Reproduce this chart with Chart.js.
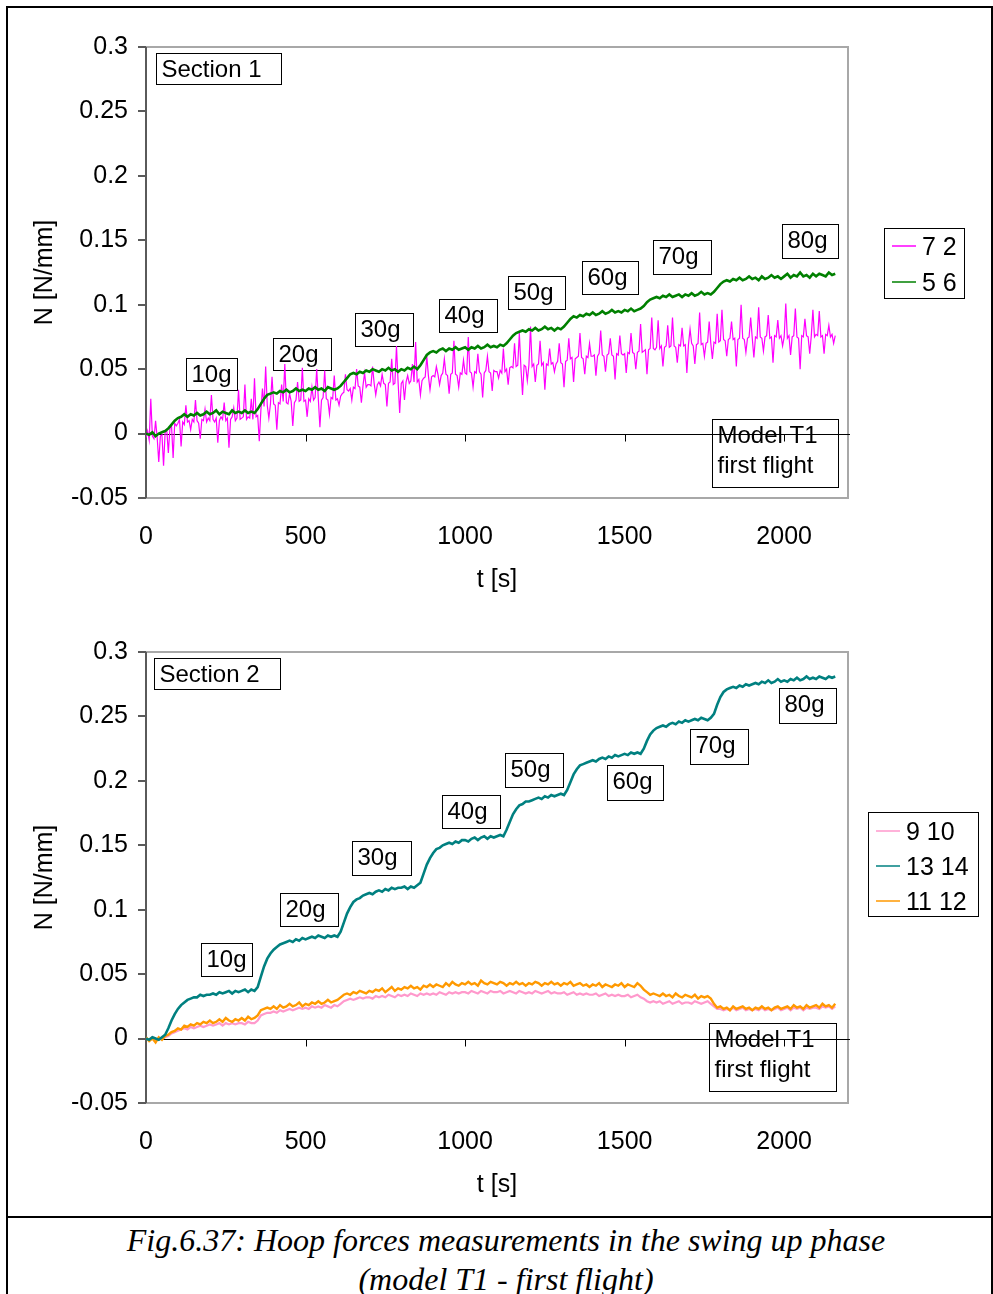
<!DOCTYPE html>
<html>
<head>
<meta charset="utf-8">
<title>Hoop forces - swing up phase</title>
<script src="https://cdn.jsdelivr.net/npm/chart.js@4.4.0/dist/chart.umd.min.js"></script>
<style>
  body { margin: 0; background: #fff; }
  #page { position: relative; width: 993px; height: 1294px; overflow: hidden; background: #fff; }
  #frame { position: absolute; left: 6px; top: 6px; width: 983px; height: 1320px; border: 2px solid #000; }
  #rule { position: absolute; left: 6px; top: 1216px; width: 987px; height: 2px; background: #000; }
  .panel { position: absolute; left: 0; }
  #caption {
    position: absolute; left: 19px; width: 974px; top: 1221px;
    text-align: center; font: italic 32px/39px "Liberation Serif", "Times New Roman", serif; color: #000;
  }
</style>
</head>
<body>
<div id="page">
  <div id="frame"></div>
  <div id="rule"></div>
  <canvas id="section1" class="panel" width="993" height="605" style="top:0"></canvas>
  <canvas id="section2" class="panel" width="993" height="605" style="top:605px"></canvas>
  <div id="caption">Fig.6.37: Hoop forces measurements in the swing up phase<br>(model T1 - first flight)</div>
</div>
<script>
// sampling intervals of the logged gauges [s]
const DT_FINE = 5;     // gauge 7 2 (spiky signal, kept at 5 s)
const DT = 10;         // all other gauges

// Section 1 gauges, N [N/mm], from t = 0 to 2160 s
const gauge72 = [
  -0.003, 0.002, -0.005, 0.027, -0.002, -0.004, 0.010, -0.003, -0.022, -0.002, -0.001, -0.025, 0.001, 0.003, -0.015, 0.004, 0.006, -0.019, 0.008, 0.006,
  0.008, 0.011, -0.010, 0.009, 0.007, 0.022, 0.009, 0.010, 0.003, 0.011, 0.009, 0.026, 0.010, 0.008, -0.004, 0.011, 0.010, 0.019, 0.009, 0.012,
  0.010, 0.030, 0.011, 0.009, 0.012, -0.007, 0.010, 0.013, 0.011, 0.024, 0.010, 0.012, -0.011, 0.011, 0.013, 0.020, 0.010, 0.012, 0.034, 0.011,
  0.012, 0.013, 0.038, 0.011, 0.013, 0.012, 0.027, 0.011, 0.043, 0.013, 0.014, -0.006, 0.018, 0.035, 0.021, 0.052, 0.022, 0.012, 0.023, 0.044,
  0.023, 0.022, 0.003, 0.024, 0.023, 0.038, 0.025, 0.054, 0.024, 0.023, 0.031, 0.025, 0.006, 0.024, 0.026, 0.040, 0.025, 0.026, 0.051, 0.025,
  0.026, 0.013, 0.027, 0.025, 0.036, 0.026, 0.028, 0.050, 0.027, 0.005, 0.026, 0.028, 0.049, 0.027, 0.026, 0.015, 0.028, 0.027, 0.045, 0.026,
  0.027, 0.022, 0.029, 0.031, 0.032, 0.046, 0.034, 0.033, 0.035, 0.026, 0.036, 0.035, 0.050, 0.037, 0.036, 0.024, 0.037, 0.047, 0.036, 0.038,
  0.038, 0.037, 0.052, 0.039, 0.030, 0.038, 0.040, 0.037, 0.046, 0.039, 0.038, 0.021, 0.039, 0.040, 0.058, 0.038, 0.039, 0.068, 0.040, 0.016,
  0.039, 0.041, 0.026, 0.040, 0.045, 0.039, 0.041, 0.054, 0.040, 0.071, 0.040, 0.042, 0.030, 0.041, 0.043, 0.044, 0.060, 0.045, 0.034, 0.044,
  0.045, 0.044, 0.052, 0.046, 0.038, 0.045, 0.047, 0.058, 0.046, 0.045, 0.031, 0.046, 0.047, 0.072, 0.046, 0.045, 0.036, 0.047, 0.046, 0.057,
  0.047, 0.046, 0.075, 0.048, 0.047, 0.036, 0.048, 0.047, 0.062, 0.048, 0.046, 0.028, 0.047, 0.049, 0.060, 0.048, 0.047, 0.033, 0.049, 0.048,
  0.048, 0.043, 0.049, 0.047, 0.066, 0.048, 0.050, 0.038, 0.051, 0.052, 0.051, 0.070, 0.052, 0.053, 0.078, 0.051, 0.030, 0.053, 0.052, 0.041,
  0.053, 0.083, 0.052, 0.054, 0.040, 0.053, 0.054, 0.072, 0.053, 0.055, 0.034, 0.054, 0.053, 0.066, 0.054, 0.055, 0.048, 0.054, 0.056, 0.070,
  0.055, 0.054, 0.036, 0.056, 0.057, 0.074, 0.058, 0.059, 0.040, 0.058, 0.059, 0.060, 0.078, 0.059, 0.058, 0.046, 0.060, 0.059, 0.070, 0.060,
  0.060, 0.061, 0.045, 0.060, 0.062, 0.080, 0.061, 0.060, 0.048, 0.061, 0.062, 0.074, 0.061, 0.060, 0.042, 0.062, 0.061, 0.076, 0.062, 0.061,
  0.062, 0.047, 0.063, 0.062, 0.078, 0.063, 0.062, 0.050, 0.063, 0.064, 0.085, 0.063, 0.064, 0.065, 0.046, 0.065, 0.066, 0.090, 0.066, 0.065,
  0.067, 0.088, 0.066, 0.068, 0.052, 0.067, 0.068, 0.084, 0.067, 0.068, 0.090, 0.068, 0.067, 0.055, 0.069, 0.068, 0.082, 0.068, 0.069, 0.047,
  0.069, 0.081, 0.070, 0.068, 0.054, 0.069, 0.070, 0.094, 0.069, 0.070, 0.060, 0.070, 0.071, 0.087, 0.070, 0.058, 0.071, 0.070, 0.093, 0.071,
  0.072, 0.096, 0.073, 0.072, 0.060, 0.073, 0.074, 0.087, 0.073, 0.074, 0.052, 0.073, 0.074, 0.100, 0.074, 0.073, 0.063, 0.074, 0.075, 0.090,
  0.074, 0.059, 0.075, 0.074, 0.098, 0.075, 0.074, 0.064, 0.075, 0.076, 0.092, 0.074, 0.075, 0.055, 0.076, 0.075, 0.088, 0.074, 0.076, 0.068,
  0.075, 0.101, 0.074, 0.076, 0.061, 0.075, 0.076, 0.097, 0.075, 0.074, 0.050, 0.076, 0.075, 0.089, 0.076, 0.075, 0.062, 0.076, 0.096, 0.075,
  0.077, 0.076, 0.095, 0.075, 0.076, 0.062, 0.077, 0.076, 0.084, 0.075, 0.077, 0.070, 0.076
];
const gauge56 = [
  0.000, -0.001, 0.001, -0.002, 0.000, 0.001, 0.002, 0.004, 0.007, 0.010,
  0.012, 0.013, 0.015, 0.013, 0.015, 0.014, 0.016, 0.014, 0.015, 0.017,
  0.015, 0.016, 0.018, 0.015, 0.017, 0.016, 0.015, 0.018, 0.016, 0.017,
  0.016, 0.018, 0.016, 0.017, 0.016, 0.019, 0.023, 0.027, 0.030, 0.031,
  0.032, 0.031, 0.033, 0.032, 0.034, 0.032, 0.033, 0.035, 0.033, 0.034,
  0.033, 0.035, 0.034, 0.036, 0.034, 0.035, 0.033, 0.036, 0.035, 0.034,
  0.035, 0.037, 0.040, 0.043, 0.046, 0.047, 0.046, 0.048, 0.047, 0.049,
  0.048, 0.050, 0.049, 0.048, 0.050, 0.049, 0.051, 0.049, 0.050, 0.048,
  0.050, 0.049, 0.051, 0.050, 0.052, 0.050, 0.053, 0.057, 0.061, 0.063,
  0.064, 0.063, 0.065, 0.066, 0.064, 0.066, 0.065, 0.067, 0.065, 0.066,
  0.067, 0.065, 0.067, 0.066, 0.068, 0.066, 0.067, 0.069, 0.067, 0.068,
  0.067, 0.069, 0.068, 0.070, 0.073, 0.076, 0.078, 0.079, 0.080, 0.079,
  0.081, 0.080, 0.082, 0.080, 0.081, 0.083, 0.081, 0.082, 0.080, 0.082,
  0.081, 0.083, 0.086, 0.089, 0.091, 0.090, 0.092, 0.091, 0.093, 0.092,
  0.094, 0.092, 0.093, 0.095, 0.093, 0.094, 0.096, 0.094, 0.095, 0.094,
  0.096, 0.095, 0.097, 0.095, 0.096, 0.097, 0.099, 0.102, 0.104, 0.105,
  0.106, 0.105, 0.107, 0.106, 0.108, 0.106, 0.107, 0.108, 0.106, 0.108,
  0.107, 0.109, 0.107, 0.108, 0.110, 0.108, 0.109, 0.108, 0.110, 0.113,
  0.116, 0.118, 0.119, 0.118, 0.120, 0.119, 0.121, 0.119, 0.120, 0.122,
  0.120, 0.121, 0.119, 0.122, 0.120, 0.121, 0.123, 0.121, 0.122, 0.120,
  0.122, 0.124, 0.121, 0.123, 0.122, 0.125, 0.122, 0.123, 0.121, 0.124,
  0.122, 0.124, 0.123, 0.122, 0.125, 0.123, 0.124
];

// Section 2 gauges, every 10 s
const gauge910 = [
  0.000, -0.001, 0.001, -0.001, 0.000, 0.000, 0.001, 0.002, 0.004, 0.005,
  0.006, 0.007, 0.008, 0.007, 0.009, 0.008, 0.009, 0.010, 0.009, 0.010,
  0.011, 0.010, 0.011, 0.012, 0.010, 0.012, 0.011, 0.012, 0.011, 0.012,
  0.012, 0.011, 0.013, 0.012, 0.012, 0.014, 0.018, 0.019, 0.020, 0.020,
  0.021, 0.020, 0.022, 0.021, 0.022, 0.023, 0.022, 0.023, 0.024, 0.023,
  0.024, 0.023, 0.025, 0.024, 0.025, 0.024, 0.026, 0.025, 0.024, 0.026,
  0.025, 0.027, 0.029, 0.030, 0.031, 0.030, 0.031, 0.032, 0.031, 0.032,
  0.032, 0.031, 0.033, 0.032, 0.033, 0.032, 0.034, 0.033, 0.032, 0.034,
  0.033, 0.034, 0.033, 0.035, 0.034, 0.033, 0.035, 0.034, 0.035, 0.034,
  0.035, 0.034, 0.036, 0.035, 0.034, 0.036, 0.035, 0.036, 0.035, 0.036,
  0.036, 0.035, 0.037, 0.036, 0.035, 0.037, 0.036, 0.035, 0.037, 0.036,
  0.036, 0.037, 0.035, 0.036, 0.037, 0.036, 0.035, 0.037, 0.036, 0.035,
  0.036, 0.035, 0.037, 0.036, 0.035, 0.036, 0.037, 0.035, 0.036, 0.035,
  0.035, 0.036, 0.034, 0.035, 0.036, 0.034, 0.035, 0.034, 0.035, 0.034,
  0.034, 0.035, 0.033, 0.034, 0.035, 0.033, 0.034, 0.033, 0.034, 0.033,
  0.033, 0.034, 0.032, 0.033, 0.034, 0.032, 0.031, 0.029, 0.028, 0.029,
  0.028, 0.029, 0.027, 0.028, 0.029, 0.027, 0.028, 0.029, 0.027, 0.028,
  0.028, 0.027, 0.029, 0.028, 0.027, 0.028, 0.029, 0.027, 0.025, 0.023,
  0.023, 0.022, 0.023, 0.022, 0.024, 0.022, 0.023, 0.024, 0.022, 0.023,
  0.022, 0.023, 0.022, 0.024, 0.022, 0.023, 0.022, 0.023, 0.024, 0.022,
  0.023, 0.024, 0.022, 0.024, 0.023, 0.024, 0.022, 0.024, 0.023, 0.024,
  0.024, 0.023, 0.025, 0.024, 0.025, 0.023, 0.025
];
const gauge1314 = [
  0.000, -0.001, 0.001, 0.000, -0.001, 0.001, 0.003, 0.008, 0.014, 0.019,
  0.023, 0.026, 0.028, 0.030, 0.031, 0.032, 0.032, 0.034, 0.033, 0.034,
  0.034, 0.035, 0.034, 0.036, 0.035, 0.036, 0.037, 0.035, 0.037, 0.036,
  0.037, 0.038, 0.036, 0.038, 0.037, 0.040, 0.048, 0.056, 0.062, 0.066,
  0.069, 0.071, 0.073, 0.074, 0.075, 0.076, 0.075, 0.077, 0.076, 0.078,
  0.077, 0.078, 0.079, 0.078, 0.080, 0.079, 0.078, 0.080, 0.079, 0.080,
  0.079, 0.083, 0.090, 0.097, 0.102, 0.106, 0.108, 0.109, 0.111, 0.112,
  0.113, 0.112, 0.114, 0.115, 0.114, 0.116, 0.115, 0.117, 0.116, 0.117,
  0.117, 0.118, 0.116, 0.118, 0.117, 0.119, 0.121, 0.128, 0.135, 0.140,
  0.144, 0.147, 0.148, 0.150, 0.151, 0.152, 0.151, 0.153, 0.152, 0.154,
  0.154, 0.153, 0.155, 0.156, 0.154, 0.156, 0.157, 0.155, 0.157, 0.156,
  0.157, 0.158, 0.157, 0.162, 0.168, 0.174, 0.178, 0.181, 0.182, 0.184,
  0.184, 0.185, 0.186, 0.187, 0.186, 0.188, 0.187, 0.189, 0.188, 0.189,
  0.190, 0.189, 0.193, 0.199, 0.205, 0.209, 0.212, 0.213, 0.214, 0.215,
  0.216, 0.215, 0.217, 0.218, 0.217, 0.219, 0.218, 0.220, 0.219, 0.220,
  0.221, 0.220, 0.222, 0.221, 0.222, 0.221, 0.225, 0.231, 0.236, 0.239,
  0.241, 0.242, 0.243, 0.242, 0.244, 0.245, 0.244, 0.246, 0.245, 0.247,
  0.246, 0.247, 0.248, 0.247, 0.249, 0.248, 0.247, 0.249, 0.252, 0.259,
  0.265, 0.269, 0.271, 0.272, 0.273, 0.272, 0.274, 0.273, 0.275, 0.274,
  0.275, 0.276, 0.275, 0.277, 0.276, 0.278, 0.276, 0.277, 0.279, 0.277,
  0.278, 0.277, 0.279, 0.278, 0.280, 0.278, 0.279, 0.281, 0.279, 0.280,
  0.279, 0.281, 0.280, 0.279, 0.281, 0.280, 0.281
];
const gauge1112 = [
  0.001, -0.002, 0.000, -0.003, 0.001, -0.001, 0.002, 0.003, 0.005, 0.006,
  0.008, 0.007, 0.010, 0.009, 0.011, 0.010, 0.012, 0.011, 0.013, 0.012,
  0.014, 0.012, 0.013, 0.015, 0.013, 0.016, 0.014, 0.013, 0.015, 0.014,
  0.016, 0.014, 0.017, 0.015, 0.016, 0.018, 0.022, 0.023, 0.024, 0.023,
  0.025, 0.023, 0.026, 0.024, 0.025, 0.027, 0.025, 0.026, 0.028, 0.025,
  0.027, 0.026, 0.028, 0.027, 0.029, 0.027, 0.028, 0.030, 0.028, 0.029,
  0.030, 0.032, 0.034, 0.035, 0.034, 0.036, 0.035, 0.037, 0.036, 0.035,
  0.037, 0.036, 0.038, 0.037, 0.039, 0.036, 0.038, 0.040, 0.037, 0.039,
  0.038, 0.040, 0.039, 0.041, 0.039, 0.040, 0.038, 0.041, 0.040, 0.042,
  0.040, 0.042, 0.041, 0.040, 0.043, 0.041, 0.044, 0.042, 0.041, 0.043,
  0.042, 0.044, 0.042, 0.043, 0.041, 0.045, 0.043, 0.042, 0.044, 0.043,
  0.042, 0.044, 0.043, 0.041, 0.043, 0.042, 0.044, 0.042, 0.043, 0.041,
  0.043, 0.042, 0.044, 0.043, 0.041, 0.043, 0.042, 0.044, 0.042, 0.043,
  0.041, 0.043, 0.042, 0.044, 0.041, 0.042, 0.043, 0.041, 0.042, 0.040,
  0.042, 0.041, 0.043, 0.040, 0.042, 0.041, 0.040, 0.042, 0.041, 0.043,
  0.040, 0.042, 0.041, 0.040, 0.043, 0.041, 0.038, 0.036, 0.034, 0.035,
  0.034, 0.033, 0.035, 0.033, 0.034, 0.032, 0.035, 0.033, 0.032, 0.034,
  0.033, 0.032, 0.034, 0.031, 0.033, 0.032, 0.033, 0.031, 0.027, 0.024,
  0.025, 0.023, 0.024, 0.022, 0.025, 0.023, 0.024, 0.025, 0.023, 0.024,
  0.022, 0.024, 0.023, 0.025, 0.023, 0.024, 0.022, 0.024, 0.025, 0.023,
  0.024, 0.025, 0.023, 0.026, 0.024, 0.025, 0.023, 0.026, 0.024, 0.025,
  0.026, 0.024, 0.027, 0.025, 0.026, 0.024, 0.027
];

// axis ranges and tick labels
const T_MAX = 2200;
const T_TICKS = [0, 500, 1000, 1500, 2000];
const N_MIN = -0.05, N_MAX = 0.3, N_STEP = 0.05;

const FONT = '"Liberation Sans", Arial, sans-serif';

function toPoints(values, dt) {
  return values.map((v, i) => ({ x: i * dt, y: v }));
}

function series(label, values, dt, color, width, order) {
  return {
    label: label,
    data: toPoints(values, dt),
    borderColor: color,
    backgroundColor: color,
    borderWidth: width,
    pointRadius: 0,
    tension: 0,
    order: order
  };
}

// frame, axes, load-step text boxes and the boxed legend (Excel style)
const panelDecor = {
  id: 'panelDecor',
  beforeDatasetsDraw(chart, args, opts) {
    const { ctx, chartArea: a, scales: { x, y } } = chart;
    ctx.save();
    ctx.strokeStyle = '#a8a8a8';
    ctx.lineWidth = 2;
    ctx.strokeRect(a.left, a.top, a.right - a.left, a.bottom - a.top);

    ctx.strokeStyle = '#5a5a5a';
    ctx.beginPath();
    ctx.moveTo(a.left, a.top);
    ctx.lineTo(a.left, a.bottom);
    y.ticks.forEach(t => {
      const py = Math.round(y.getPixelForValue(t.value));
      ctx.moveTo(a.left - 8, py);
      ctx.lineTo(a.left, py);
    });
    ctx.stroke();

    // text boxes
    ctx.font = '24px ' + FONT;
    ctx.fillStyle = '#000';
    ctx.textBaseline = 'middle';
    ctx.textAlign = 'left';
    ctx.lineWidth = 1;
    ctx.strokeStyle = '#000';
    opts.boxes.forEach(b => {
      const bx = Math.round(x.getPixelForValue(b.t)) + 0.5;
      const by = Math.round(y.getPixelForValue(b.n)) + 0.5;
      ctx.strokeRect(bx, by, b.w, b.h);
      b.lines.forEach((s, k) => ctx.fillText(s, bx + 5, by + 17 + k * 30));
    });

    // zero line with the time ticks on it
    const y0 = Math.round(y.getPixelForValue(0)) + 0.5;
    ctx.beginPath();
    ctx.moveTo(a.left, y0);
    ctx.lineTo(a.right + 2, y0);
    x.ticks.forEach(t => {
      if (t.value <= 0) return;
      const px = Math.round(x.getPixelForValue(t.value)) + 0.5;
      ctx.moveTo(px, y0);
      ctx.lineTo(px, y0 + 7);
    });
    ctx.stroke();
    ctx.restore();
  },
  afterDraw(chart, args, opts) {
    const { ctx } = chart;
    const lg = opts.legend;
    ctx.save();
    ctx.strokeStyle = '#000';
    ctx.lineWidth = 1;
    ctx.strokeRect(lg.left + 0.5, lg.top + 0.5, lg.width, lg.height);
    ctx.font = '25px ' + FONT;
    ctx.textBaseline = 'middle';
    ctx.fillStyle = '#000';
    chart.data.datasets.forEach((ds, i) => {
      const yy = lg.top + lg.first + i * lg.gap;
      ctx.strokeStyle = ds.borderColor;
      ctx.lineWidth = 1.5;
      ctx.beginPath();
      ctx.moveTo(lg.left + 8, yy);
      ctx.lineTo(lg.left + 32, yy);
      ctx.stroke();
      ctx.fillText(ds.label, lg.left + 38, yy + 2);
    });
    ctx.restore();
  }
};

function makePanel(canvasId, datasets, boxes, legend) {
  return new Chart(document.getElementById(canvasId), {
    type: 'line',
    data: { datasets: datasets },
    options: {
      responsive: false,
      animation: false,
      events: [],
      layout: { padding: { left: 26, top: 47, right: 145, bottom: 6 } },
      scales: {
        x: {
          type: 'linear',
          min: 0,
          max: T_MAX,
          afterFit: s => { s.height = 101; },
          afterBuildTicks: s => { s.ticks = T_TICKS.map(v => ({ value: v })); },
          grid: { display: false, drawTicks: false },
          border: { display: false },
          ticks: {
            maxRotation: 0,
            padding: 24,
            color: '#000',
            font: { family: FONT, size: 25 },
            callback: v => String(v)
          },
          title: { display: true, text: 't [s]', color: '#000', font: { family: FONT, size: 25 } }
        },
        y: {
          min: N_MIN,
          max: N_MAX,
          afterFit: s => { s.width = 120; },
          grid: { display: false, drawTicks: false },
          border: { display: false },
          ticks: {
            stepSize: N_STEP,
            padding: 18,
            color: '#000',
            font: { family: FONT, size: 25 },
            callback: v => String(Math.round(v * 100) / 100)
          },
          title: { display: true, text: 'N [N/mm]', color: '#000', font: { family: FONT, size: 25 } }
        }
      },
      plugins: {
        legend: { display: false },
        tooltip: { enabled: false },
        panelDecor: { boxes: boxes, legend: legend }
      }
    },
    plugins: [panelDecor]
  });
}

makePanel('section1', [
  series('7 2', gauge72, DT_FINE, '#ff00ff', 1.2, 2),
  series('5 6', gauge56, DT, '#008000', 2.6, 1)
], [
  { lines: ['Section 1'], t: 31, n: 0.295, w: 125, h: 31 },
  { lines: ['10g'], t: 125, n: 0.059, w: 51, h: 32 },
  { lines: ['20g'], t: 398, n: 0.0738, w: 58, h: 32 },
  { lines: ['30g'], t: 655, n: 0.0939, w: 58, h: 33 },
  { lines: ['40g'], t: 918, n: 0.1048, w: 58, h: 33 },
  { lines: ['50g'], t: 1134, n: 0.1219, w: 57, h: 33 },
  { lines: ['60g'], t: 1366, n: 0.1343, w: 56, h: 33 },
  { lines: ['70g'], t: 1589, n: 0.1506, w: 58, h: 34 },
  { lines: ['80g'], t: 1993, n: 0.163, w: 56, h: 34 },
  { lines: ['Model T1', 'first flight'], t: 1774, n: 0.0116, w: 126, h: 68 }
], { left: 884, top: 228, width: 80, height: 70, first: 18, gap: 36 });

makePanel('section2', [
  series('9 10', gauge910, DT, '#ff99cc', 2.2, 3),
  series('13 14', gauge1314, DT, '#008080', 2.6, 1),
  series('11 12', gauge1112, DT, '#ff9900', 2.4, 2)
], [
  { lines: ['Section 2'], t: 25, n: 0.295, w: 126, h: 31 },
  { lines: ['10g'], t: 172, n: 0.0738, w: 51, h: 33 },
  { lines: ['20g'], t: 420, n: 0.1126, w: 58, h: 33 },
  { lines: ['30g'], t: 646, n: 0.1537, w: 59, h: 34 },
  { lines: ['40g'], t: 928, n: 0.1887, w: 58, h: 33 },
  { lines: ['50g'], t: 1125, n: 0.222, w: 58, h: 34 },
  { lines: ['60g'], t: 1445, n: 0.212, w: 56, h: 35 },
  { lines: ['70g'], t: 1705, n: 0.2399, w: 58, h: 35 },
  { lines: ['80g'], t: 1984, n: 0.2717, w: 57, h: 35 },
  { lines: ['Model T1', 'first flight'], t: 1764, n: 0.0124, w: 127, h: 68 }
], { left: 868, top: 207, width: 110, height: 104, first: 19, gap: 35 });
</script>
</body>
</html>
